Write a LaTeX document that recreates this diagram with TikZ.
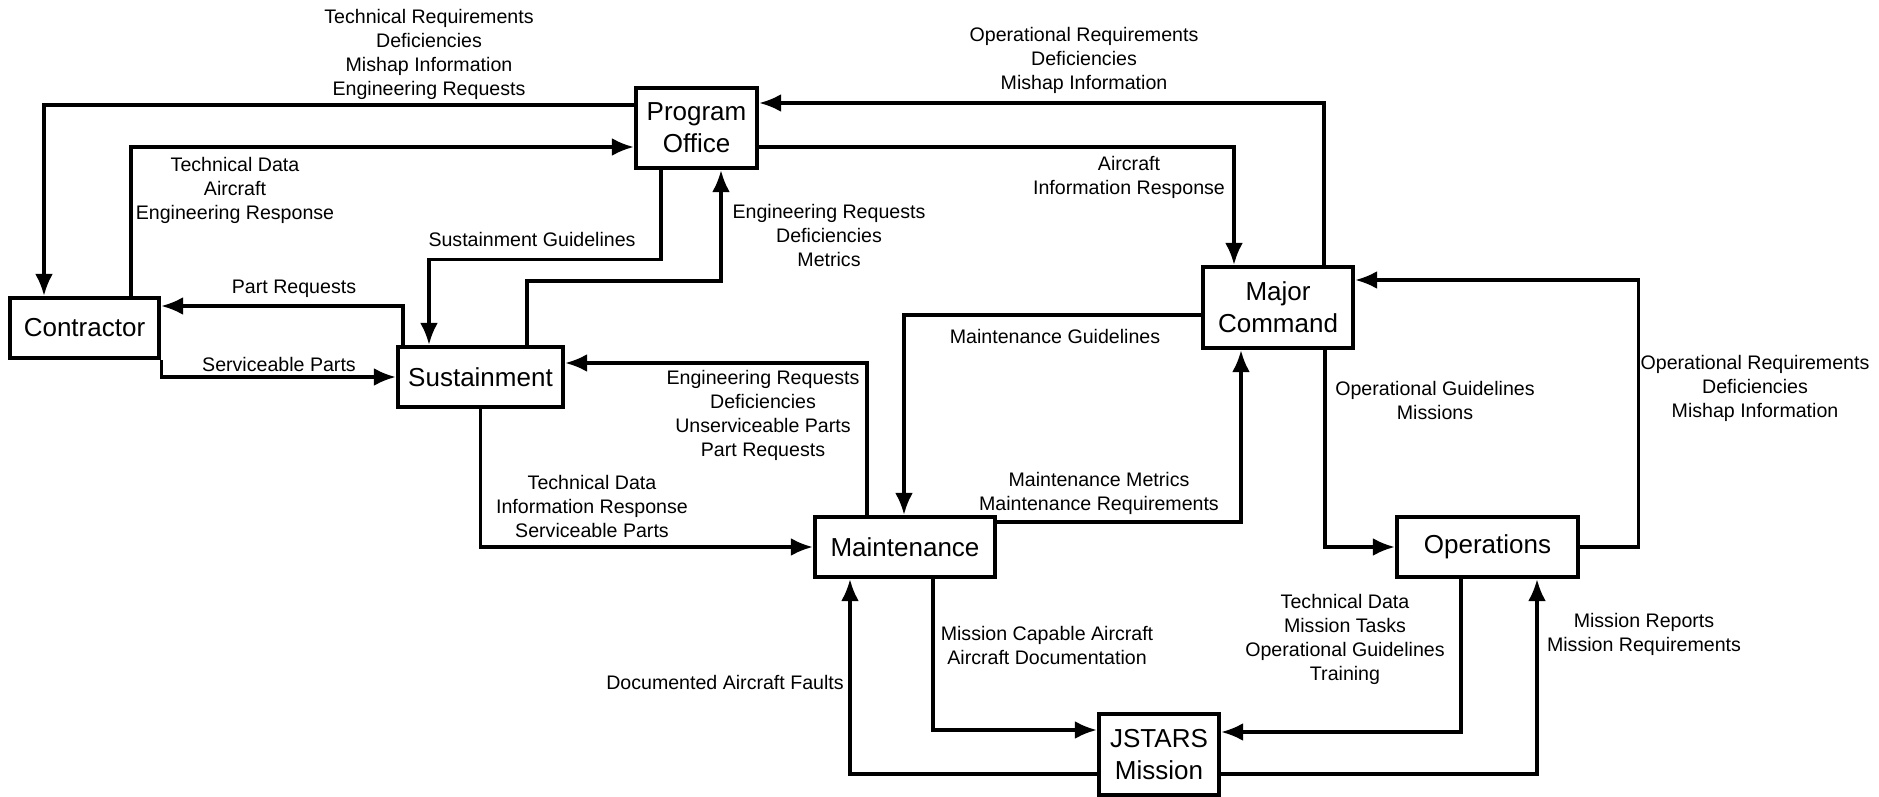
\documentclass[tikz,border=0pt]{standalone}
\usepackage{fontspec}
\setmainfont{Liberation Sans}
\usetikzlibrary{arrows.meta, positioning}
\tikzset{
    block/.style={draw, line width=2.2pt, fill=white, align=center, inner sep=0pt,
        font=\fontsize{13}{16}\selectfont},
    flow/.style={line width=1.7pt, -{Latex[length=11pt, width=9pt]}},
    lbl/.style={align=center, inner sep=0pt, font=\fontsize{9.8}{12}\selectfont}
}

\begin{document}
\begin{tikzpicture}[x=0.5pt, y=-0.5pt]
        \useasboundingbox (0,0) rectangle (1879,797);

        % blocks
        \node[block, minimum width=60.5pt, minimum height=40pt] (po) at (696.5,128) {Program\\Office};
        \node[block, minimum width=74.5pt, minimum height=30pt] (con) at (84.5,328) {Contractor};
        \node[block, minimum width=82.5pt, minimum height=30pt] (sus) at (480.5,377) {Sustainment};
        \node[block, minimum width=75pt, minimum height=40.5pt] (mc) at (1278,307.5) {Major\\Command};
        \node[block, minimum width=90pt, minimum height=30pt] (mnt) at (905,547) {Maintenance};
        \node[block, minimum width=90.5pt, minimum height=30pt] (ops) at (1487.5,547) {Operations};
        \node[block, minimum width=60pt, minimum height=40.5pt] (js) at (1159,754.5) {JSTARS\\Mission};

        % flows
        \draw[flow] (po.west |- 0,105) -| (con.north -| 44,0);
        \draw[flow] (con.north -| 131,0) |- (po.west |- 0,147);
        \draw[flow] (po.south -| 661,0) -- ++(0,89) -| (sus.north -| 429,0);
        \draw[flow] (sus.north -| 527,0) -- ++(0,-64) -| (po.south -| 721,0);
        \draw[flow] (sus.north -| 403,0) |- (con.east |- 0,306);
        \draw[flow] (con.south east) |- (sus.west);
        \draw[flow] (mc.north -| 1324,0) |- (po.east |- 0,103);
        \draw[flow] (po.east |- 0,147) -| (mc.north -| 1234,0);
        \draw[flow] (mc.west |- 0,315) -| (mnt.north -| 904,0);
        \draw[flow] (mnt.east |- 0,522) -| (mc.south -| 1241,0);
        \draw[flow] (mc.south -| 1325,0) |- (ops.west);
        \draw[flow] (ops.east) -- ++(58,0) |- (mc.east |- 0,280);
        \draw[flow] (mnt.north -| 867,0) |- (sus.east |- 0,363);
        \draw[flow] (sus.south) |- (mnt.west);
        \draw[flow] (mnt.south -| 933,0) |- (js.west |- 0,730);
        \draw[flow] (ops.south -| 1461,0) |- (js.east |- 0,732);
        \draw[flow] (js.west |- 0,774) -| (mnt.south -| 850,0);
        \draw[flow] (js.east |- 0,774) -| (ops.south -| 1537,0);

        % labels
        \node[lbl] (l1) at (429,54) {Technical Requirements\\Deficiencies\\Mishap Information\\Engineering Requests};
        \node[lbl] (l2) at (235,190.5) {Technical Data\\Aircraft\\Engineering Response};
        \node[lbl] (l3) at (532,239) {Sustainment Guidelines};
        \node[lbl] (l4) at (829,235) {Engineering Requests\\Deficiencies\\Metrics};
        \node[lbl] (l5) at (294,289) {Part Requests};
        \node[lbl] (l6) at (279,364) {Serviceable Parts};
        \node[lbl] (l7) at (1084,60) {Operational Requirements\\Deficiencies\\Mishap Information};
        \node[lbl] (l8) at (1129,177) {Aircraft\\Information Response};
        \node[lbl] (l9) at (1055,336) {Maintenance Guidelines};
        \node[lbl] (l10) at (1435,400) {Operational Guidelines\\Missions};
        \node[lbl] (l11) at (1755,388) {Operational Requirements\\Deficiencies\\Mishap Information};
        \node[lbl] (l12) at (763,415) {Engineering Requests\\Deficiencies\\Unserviceable Parts\\Part Requests};
        \node[lbl] (l13) at (592,506) {Technical Data\\Information Response\\Serviceable Parts};
        \node[lbl] (l14) at (725,682) {Documented Aircraft Faults};
        \node[lbl] (l15) at (1099,493) {Maintenance Metrics\\Maintenance Requirements};
        \node[lbl] (l16) at (1047,645) {Mission Capable Aircraft\\Aircraft Documentation};
        \node[lbl] (l17) at (1345,639) {Technical Data\\Mission Tasks\\Operational Guidelines\\Training};
        \node[lbl] (l18) at (1644,634) {Mission Reports\\Mission Requirements};

    \end{tikzpicture}
\end{document}
